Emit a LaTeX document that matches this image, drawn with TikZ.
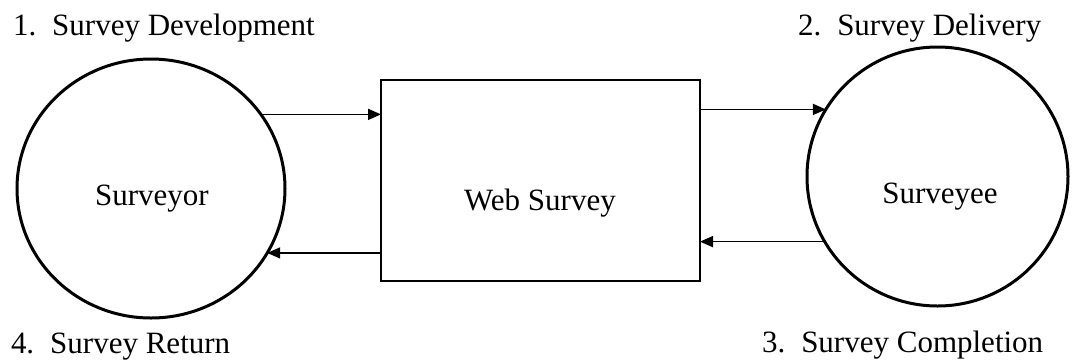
\documentclass[tikz,border=0pt]{standalone}
\usepackage{fontspec}
\setmainfont{Liberation Serif}
\usetikzlibrary{shapes.geometric,arrows.meta}
\begin{document}
\begin{tikzpicture}[x=1pt,y=-1pt,
  every node/.style={inner sep=0pt,outer sep=0pt},
  txt/.style={font=\fontsize{31}{37}\selectfont},
  party/.style={draw,ellipse,line width=3pt},
  sysbox/.style={draw,rectangle,line width=1.8pt},
  arr/.style={line width=1.7pt,-{Triangle[length=13pt,width=11pt]}}]
\useasboundingbox (0,0) rectangle (1072,360);

% participants and the web survey
\node[party,minimum width=268pt,minimum height=259pt] (surveyor) at (151,188.5) {};
\node[party,minimum width=261pt,minimum height=259pt] (surveyee) at (937.5,176.5) {};
\node[sysbox,minimum width=319pt,minimum height=201pt] (web) at (540.5,180.5) {};

% names inside the shapes
\node[txt,anchor=base] (tsurveyor) at (152,205) {Surveyor};
\node[txt,anchor=base] (tsurveyee) at (940,203) {Surveyee};
\node[txt,anchor=base] (tweb) at (540,210) {Web Survey};

% step labels
\node[txt,anchor=base west] (s1) at (13,35) {1.\hspace{16pt}Survey Development};
\node[txt,anchor=base west] (s2) at (798,35) {2.\hspace{16pt}Survey Delivery};
\node[txt,anchor=base west] (s3) at (762,352) {3.\hspace{16pt}Survey Completion};
\node[txt,anchor=base west] (s4) at (11,353) {4.\hspace{16pt}Survey Return};

% flows
\draw[arr] (surveyor.34.7) -- (surveyor.34.7 -| web.west);
\draw[arr] (web.east |- surveyee.149.7) -- (surveyee.149.7);
\draw[arr] (surveyee.210.3) -- (surveyee.210.3 -| web.east);
\draw[arr] (web.west |- surveyor.331.5) -- (surveyor.331.5);
\end{tikzpicture}
\end{document}
